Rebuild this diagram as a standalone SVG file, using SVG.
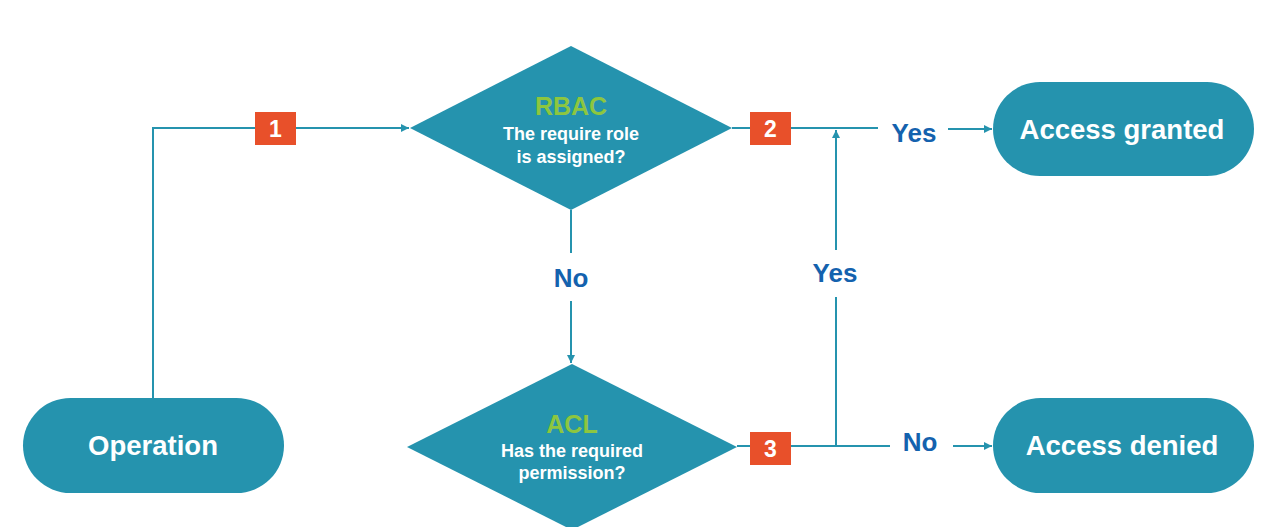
<svg xmlns="http://www.w3.org/2000/svg" width="1273" height="527" viewBox="0 0 1273 527">
<defs>
<style>
.pill{fill:#2593AE;}
.dia{fill:#2593AE;}
.badge{fill:#E8502A;}
.ptxt{font-family:"Liberation Sans",Arial,sans-serif;font-weight:bold;font-size:27.5px;fill:#ffffff;text-anchor:middle;}
.title{font-family:"Liberation Sans",Arial,sans-serif;font-weight:bold;font-size:25px;fill:#8DC63F;text-anchor:middle;}
.dtxt{font-family:"Liberation Sans",Arial,sans-serif;font-weight:bold;font-size:18px;fill:#ffffff;text-anchor:middle;}
.btxt{font-family:"Liberation Sans",Arial,sans-serif;font-weight:bold;font-size:23px;fill:#ffffff;text-anchor:middle;}
.lbl{font-family:"Liberation Sans",Arial,sans-serif;font-weight:bold;font-size:26px;fill:#1462AE;text-anchor:middle;}
.conn{fill:none;stroke:#2593AE;stroke-width:2;}
</style>
<marker id="arr" viewBox="0 0 10 10" refX="10" refY="5" markerWidth="4" markerHeight="4" orient="auto" markerUnits="strokeWidth">
<path d="M0,0 L10,5 L0,10 z" fill="#2593AE"/>
</marker>
</defs>
<rect width="1273" height="527" fill="#ffffff"/>
<g id="connectors">
<path class="conn" d="M153,398 V128 H409" marker-end="url(#arr)"/>
<path class="conn" d="M732,128 H878"/>
<path class="conn" d="M948,129 H992" marker-end="url(#arr)"/>
<path class="conn" d="M571,210 V253"/>
<path class="conn" d="M571,301 V363" marker-end="url(#arr)"/>
<path class="conn" d="M737,446 H890"/>
<path class="conn" d="M953,446 H992" marker-end="url(#arr)"/>
<path class="conn" d="M836,446 V297"/>
<path class="conn" d="M836,250 V130" marker-end="url(#arr)"/>
</g>
<g id="labels">
<text class="lbl" x="914" y="142">Yes</text>
<text class="lbl" x="571" y="287">No</text>
<text class="lbl" x="835" y="282">Yes</text>
<text class="lbl" x="920" y="451">No</text>
</g>
<g id="badge1"><rect class="badge" x="255" y="112" width="41" height="33"/><text class="btxt" x="275.5" y="137">1</text></g>
<g id="badge2"><rect class="badge" x="750" y="112" width="41" height="33"/><text class="btxt" x="770.5" y="137">2</text></g>
<g id="badge3"><rect class="badge" x="750" y="432" width="41" height="33"/><text class="btxt" x="770.5" y="457">3</text></g>
<g id="operation">
<rect class="pill" x="23" y="398" width="261" height="95" rx="47.5"/>
<text class="ptxt" x="153" y="455">Operation</text>
</g>
<g id="rbac">
<polygon class="dia" points="571,46 732,128 571,210 410,128"/>
<text class="title" x="571" y="115">RBAC</text>
<text class="dtxt" x="571" y="140">The require role</text>
<text class="dtxt" x="571" y="163">is assigned?</text>
</g>
<g id="acl">
<polygon class="dia" points="572,364 737,447 572,530 407,447"/>
<text class="title" x="572" y="433">ACL</text>
<text class="dtxt" x="572" y="457">Has the required</text>
<text class="dtxt" x="572" y="479">permission?</text>
</g>
<g id="granted">
<rect class="pill" x="993" y="82" width="261" height="94" rx="47"/>
<text class="ptxt" x="1122" y="139">Access granted</text>
</g>
<g id="denied">
<rect class="pill" x="993" y="398" width="261" height="95" rx="47.5"/>
<text class="ptxt" x="1122" y="455">Access denied</text>
</g>
</svg>
